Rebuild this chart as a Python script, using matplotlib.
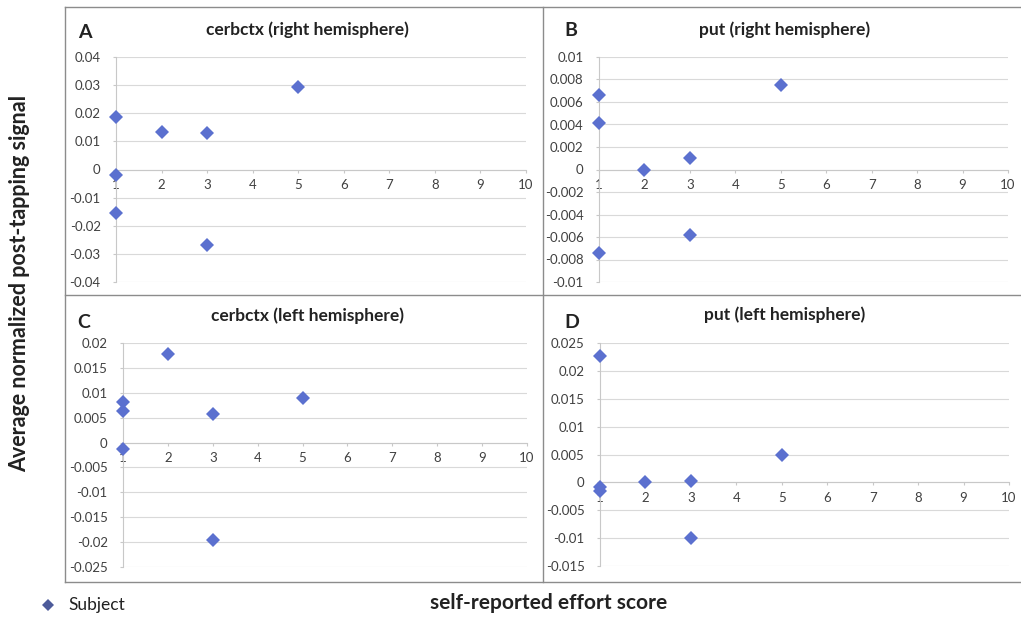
import matplotlib
matplotlib.use("Agg")
import matplotlib.pyplot as plt
from matplotlib.lines import Line2D

plt.rcParams['font.family'] = ['Lato', 'DejaVu Sans']

W, H = 1021, 617

# ---- data ----
x_A = [1, 1, 1, 2, 3, 3, 5]
y_A = [0.0185, -0.002, -0.0155, 0.0135, 0.013, -0.027, 0.0295]
x_B = [1, 1, 1, 2, 3, 3, 5]
y_B = [0.0066, 0.0041, -0.0074, 0.0, 0.001, -0.0058, 0.0075]
x_C = [1, 1, 1, 2, 3, 3, 5]
y_C = [0.0082, 0.0064, -0.0013, 0.0178, 0.0057, -0.0195, 0.009]
x_D = [1, 1, 1, 2, 3, 3, 5]
y_D = [0.0227, -0.0008, -0.0015, 0.0, 0.0002, -0.01, 0.005]

titles = ["cerbctx (right hemisphere)", "put (right hemisphere)",
          "cerbctx (left hemisphere)", "put (left hemisphere)"]
letters = ["A", "B", "C", "D"]
xticks = [1, 2, 3, 4, 5, 6, 7, 8, 9, 10]
yticks_A = [-0.04, -0.03, -0.02, -0.01, 0, 0.01, 0.02, 0.03, 0.04]
ylabels_A = ["-0.04", "-0.03", "-0.02", "-0.01", "0", "0.01", "0.02", "0.03", "0.04"]
yticks_B = [-0.01, -0.008, -0.006, -0.004, -0.002, 0, 0.002, 0.004, 0.006, 0.008, 0.01]
ylabels_B = ["-0.01", "-0.008", "-0.006", "-0.004", "-0.002", "0", "0.002", "0.004", "0.006", "0.008", "0.01"]
yticks_C = [-0.025, -0.02, -0.015, -0.01, -0.005, 0, 0.005, 0.01, 0.015, 0.02]
ylabels_C = ["-0.025", "-0.02", "-0.015", "-0.01", "-0.005", "0", "0.005", "0.01", "0.015", "0.02"]
yticks_D = [-0.015, -0.01, -0.005, 0, 0.005, 0.01, 0.015, 0.02, 0.025]
ylabels_D = ["-0.015", "-0.01", "-0.005", "0", "0.005", "0.01", "0.015", "0.02", "0.025"]

series_x = [x_A, x_B, x_C, x_D]
series_y = [y_A, y_B, y_C, y_D]
yticks_all = [yticks_A, yticks_B, yticks_C, yticks_D]
ylabels_all = [ylabels_A, ylabels_B, ylabels_C, ylabels_D]

# pixel boxes of plot areas: (left, top, right, bottom)
boxes = [(116, 57, 526, 282), (599, 57, 1008, 282),
         (123, 343, 527, 567), (600, 343, 1009, 566)]
title_pos = [(307, 30), (785, 30), (307, 316), (785, 315)]
letter_pos = [(78, 33), (564, 31), (77, 323), (564, 322)]

marker_color = '#5b70cf'
grid_color = '#d9d9d9'
tick_color = '#404040'

fig = plt.figure(figsize=(W / 100, H / 100), dpi=100)

def fx(px):
    return px / W

def fy(py):
    return 1 - py / H

for i in range(4):
    l, t, r, b = boxes[i]
    ax = fig.add_axes([fx(l), fy(b), fx(r) - fx(l), fy(t) - fy(b)])
    yt = yticks_all[i]
    ax.set_xlim(1, 10)
    ax.set_ylim(yt[0], yt[-1])
    ax.set_yticks(yt)
    ax.set_yticklabels(ylabels_all[i])
    ax.set_xticks(xticks)
    ax.set_xticklabels([str(v) for v in xticks])
    ax.grid(axis='y', color=grid_color, linewidth=0.8)
    ax.set_axisbelow(True)
    for s in ['top', 'right']:
        ax.spines[s].set_visible(False)
    ax.spines['bottom'].set_position(('data', 0))
    ax.spines['bottom'].set_color('#c8c8c8')
    ax.spines['left'].set_color('#c8c8c8')
    ax.spines['bottom'].set_linewidth(0.8)
    ax.spines['left'].set_linewidth(0.8)
    ax.tick_params(axis='both', length=2, color='#c8c8c8', labelsize=9.5,
                   labelcolor=tick_color)
    ax.tick_params(axis='y', pad=9)
    ax.tick_params(axis='x', pad=5)
    ax.patch.set_alpha(0)
    ax.plot(series_x[i], series_y[i], linestyle='none', marker='D', ms=7,
            color=marker_color, markeredgewidth=0, clip_on=False, zorder=5)
    tx, ty = title_pos[i]
    fig.text(fx(tx), fy(ty), titles[i], ha='center', va='center',
             fontsize=12.5, fontweight='bold', color='#222222')
    lx, ly = letter_pos[i]
    fig.text(fx(lx), fy(ly), letters[i], ha='left', va='center',
             fontsize=14, fontweight='bold', color='#222222')

# panel frames
frame_color = '#8c8c8c'
for y in [7, 295, 582]:
    fig.add_artist(Line2D([fx(65), fx(1021)], [fy(y), fy(y)], color=frame_color, lw=1.0))
for x in [65, 543]:
    fig.add_artist(Line2D([fx(x), fx(x)], [fy(7), fy(582)], color=frame_color, lw=1.0))

# axis labels
fig.text(fx(20), fy(283), "Average normalized post-tapping signal", rotation=90,
         ha='center', va='center', fontsize=15.5, fontweight='bold', color='#222222')
fig.text(fx(549), fy(603), "self-reported effort score", ha='center', va='center',
         fontsize=15, fontweight='bold', color='#222222')

# legend
fig.add_artist(Line2D([fx(48)], [fy(605)], marker='D', ms=6.5, color='#4d5b9a',
                      markeredgewidth=0, linestyle='none'))
fig.text(fx(68), fy(605), "Subject", ha='left', va='center', fontsize=12.5, color='#222222')

fig.savefig("out.png", dpi=100)
